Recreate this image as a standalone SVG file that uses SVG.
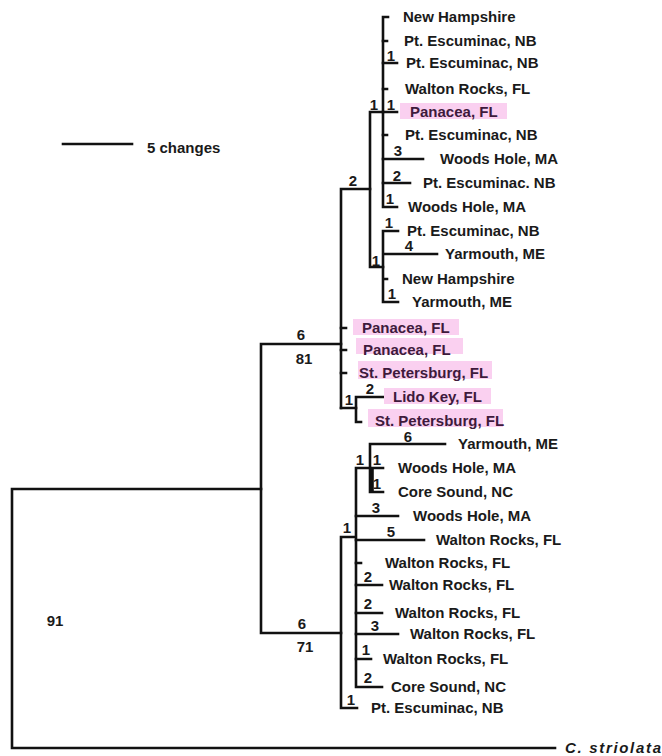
<svg xmlns="http://www.w3.org/2000/svg" width="662" height="756" viewBox="0 0 662 756">
<style>
.t{font-family:"Liberation Sans",Arial,sans-serif;font-size:15px;font-weight:bold;fill:#1a1a1a}
.h{fill:#3e1a3c}
.b{font-family:"Liberation Sans",Arial,sans-serif;font-size:15px;font-weight:bold;fill:#1a1a1a;text-anchor:middle}
.hl{fill:#fad0f0}
.e{fill:none;stroke:#111;stroke-width:2.6;stroke-linecap:square;stroke-linejoin:miter}
</style>
<rect width="662" height="756" fill="#fff"/>
<g id="scale">
<line x1="63" y1="144" x2="132" y2="144" class="e"/>
<text x="147" y="153" class="t">5 changes</text>
</g>
<g id="connectors">
<path class="e" d="M261,489 H12 V748 H555"/>
<path class="e" d="M341,344 H261 V633 H341"/>
<path class="e" d="M370,189 H341 V408"/>
<path class="e" d="M383,112 H370 V267 H383"/>
<path class="e" d="M388,17 H383 V207 H397"/>
<path class="e" d="M383,41 H387 M383,63 H397 M383,89 H387 M383,112 H397 M383,135 H387 M383,159 H423 M383,183 H410"/>
<path class="e" d="M398,231 H383 V302 H398 M383,254 H437 M383,279 H387"/>
<path class="e" d="M341,328 H346 M341,350 H346 M341,373 H346 M341,408 H356"/>
<path class="e" d="M383,397 H356 V422 H361"/>
<path class="e" d="M355,537 H341 V708 H357"/>
<path class="e" d="M370,468 H356 V687 H382"/>
<path class="e" d="M445,444 H370 V492 H383 M370,468 H383 M372.5,468 V492"/>
<path class="e" d="M356,516 H398 M356,540 H424 M356,563 H361 M356,585 H382 M356,613 H382 M356,634 H398 M356,659 H371"/>
</g>
<g id="branch-labels">
<text x="391" y="61" class="b">1</text>
<text x="374" y="110" class="b">1</text>
<text x="391" y="110" class="b">1</text>
<text x="398" y="156" class="b">3</text>
<text x="397" y="181" class="b">2</text>
<text x="390" y="204" class="b">1</text>
<text x="353" y="186" class="b">2</text>
<text x="389" y="228" class="b">1</text>
<text x="409" y="251" class="b">4</text>
<text x="376" y="266" class="b">1</text>
<text x="392" y="299" class="b">1</text>
<text x="301" y="340" class="b">6</text>
<text x="304" y="364" class="b">81</text>
<text x="370" y="394" class="b">2</text>
<text x="349" y="405" class="b">1</text>
<text x="408" y="442" class="b">6</text>
<text x="360" y="465" class="b">1</text>
<text x="377" y="465" class="b">1</text>
<text x="377" y="489" class="b">1</text>
<text x="376" y="513" class="b">3</text>
<text x="347" y="533" class="b">1</text>
<text x="391" y="537" class="b">5</text>
<text x="368" y="582" class="b">2</text>
<text x="368" y="609" class="b">2</text>
<text x="375" y="631" class="b">3</text>
<text x="366" y="655" class="b">1</text>
<text x="368" y="683" class="b">2</text>
<text x="351" y="705" class="b">1</text>
<text x="302" y="629" class="b">6</text>
<text x="305" y="652" class="b">71</text>
<text x="55" y="626" class="b">91</text>
</g>
<g id="leaf-1"><text x="403" y="22" class="t">New Hampshire</text></g>
<g id="leaf-2"><text x="404" y="46" class="t">Pt. Escuminac, NB</text></g>
<g id="leaf-3"><text x="406" y="68" class="t">Pt. Escuminac, NB</text></g>
<g id="leaf-4"><text x="405" y="94" class="t">Walton Rocks, FL</text></g>
<g id="leaf-5"><rect x="400" y="103" width="107" height="16" class="hl"/><text x="410" y="117" class="t h">Panacea, FL</text></g>
<g id="leaf-6"><text x="405" y="140" class="t">Pt. Escuminac, NB</text></g>
<g id="leaf-7"><text x="440" y="164" class="t">Woods Hole, MA</text></g>
<g id="leaf-8"><text x="423" y="188" class="t">Pt. Escuminac. NB</text></g>
<g id="leaf-9"><text x="408" y="212" class="t">Woods Hole, MA</text></g>
<g id="leaf-10"><text x="407" y="236" class="t">Pt. Escuminac, NB</text></g>
<g id="leaf-11"><text x="445" y="259" class="t">Yarmouth, ME</text></g>
<g id="leaf-12"><text x="402" y="284" class="t">New Hampshire</text></g>
<g id="leaf-13"><text x="412" y="307" class="t">Yarmouth, ME</text></g>
<g id="leaf-14"><rect x="353" y="319" width="106" height="16" class="hl"/><text x="362" y="333" class="t h">Panacea, FL</text></g>
<g id="leaf-15"><rect x="356" y="338" width="107" height="16" class="hl"/><text x="363" y="355" class="t h">Panacea, FL</text></g>
<g id="leaf-16"><rect x="358" y="361" width="134" height="18" class="hl"/><text x="359" y="378" class="t h">St. Petersburg, FL</text></g>
<g id="leaf-17"><rect x="384" y="388" width="107" height="16" class="hl"/><text x="393" y="402" class="t h">Lido Key, FL</text></g>
<g id="leaf-18"><rect x="368" y="409" width="135" height="18" class="hl"/><text x="375" y="426" class="t h">St. Petersburg, FL</text></g>
<g id="leaf-19"><text x="458" y="449" class="t">Yarmouth, ME</text></g>
<g id="leaf-20"><text x="398" y="473" class="t">Woods Hole, MA</text></g>
<g id="leaf-21"><text x="398" y="497" class="t">Core Sound, NC</text></g>
<g id="leaf-22"><text x="413" y="521" class="t">Woods Hole, MA</text></g>
<g id="leaf-23"><text x="436" y="545" class="t">Walton Rocks, FL</text></g>
<g id="leaf-24"><text x="385" y="568" class="t">Walton Rocks, FL</text></g>
<g id="leaf-25"><text x="389" y="590" class="t">Walton Rocks, FL</text></g>
<g id="leaf-26"><text x="395" y="618" class="t">Walton Rocks, FL</text></g>
<g id="leaf-27"><text x="410" y="639" class="t">Walton Rocks, FL</text></g>
<g id="leaf-28"><text x="383" y="664" class="t">Walton Rocks, FL</text></g>
<g id="leaf-29"><text x="391" y="692" class="t">Core Sound, NC</text></g>
<g id="leaf-30"><text x="371" y="713" class="t">Pt. Escuminac, NB</text></g>
<g id="outgroup"><text x="565" y="753" class="t" font-style="italic" font-size="16.5" textLength="96" lengthAdjust="spacing">C. striolata</text></g>
</svg>
